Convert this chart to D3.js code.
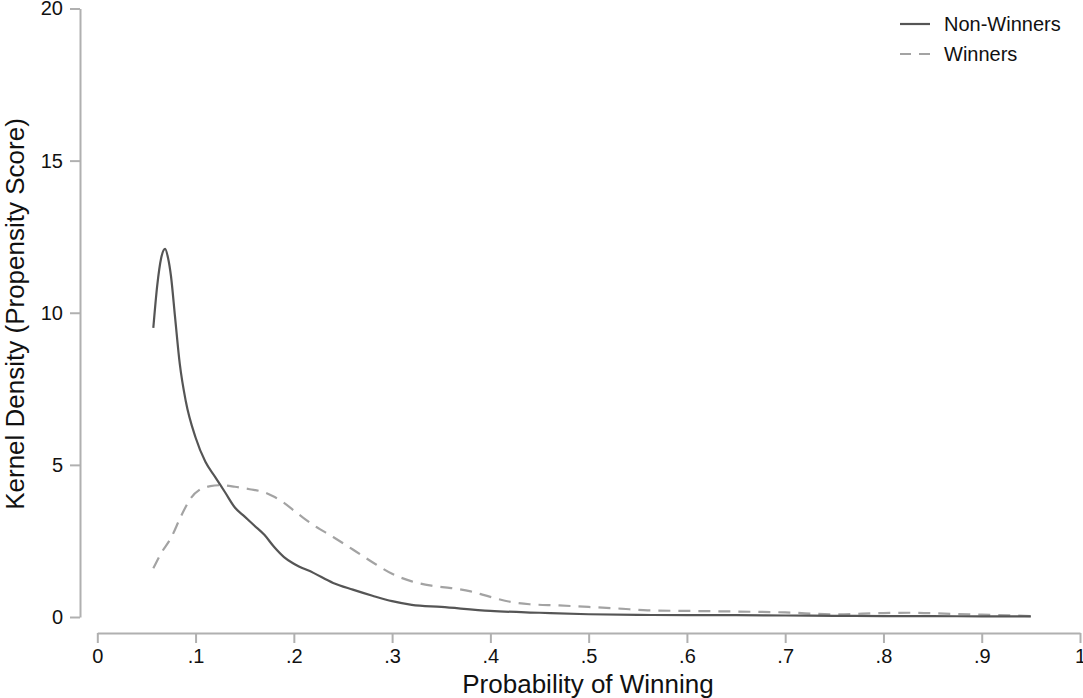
<!DOCTYPE html>
<html>
<head>
<meta charset="utf-8">
<script src="https://cdn.jsdelivr.net/npm/d3@7"></script>
<style>
  body { margin: 0; background: #fff; }
  svg { font-family: "Liberation Sans", Arial, Helvetica, sans-serif; }
  .axis path, .axis line { stroke: #b0b0b0; stroke-width: 2; }
  .axis text { font-size: 20px; fill: #111; }
</style>
</head>
<body>
<div class="density_chart"></div>
<script>
// Non-Winners kernel density
const nonWinX = [0.057, 0.061, 0.065, 0.069, 0.072, 0.075, 0.079, 0.084, 0.09, 0.1, 0.11, 0.12, 0.13, 0.14, 0.15, 0.16, 0.17, 0.18, 0.19, 0.2, 0.22, 0.24, 0.26, 0.28, 0.3, 0.32, 0.35, 0.4, 0.45, 0.5, 0.55, 0.6, 0.65, 0.7, 0.75, 0.8, 0.85, 0.9, 0.95];
const nonWinY = [9.5, 10.9, 11.8, 12.1, 11.8, 11.2, 9.9, 8.3, 7.1, 5.9, 5.1, 4.6, 4.1, 3.6, 3.3, 3.0, 2.7, 2.3, 1.97, 1.75, 1.45, 1.12, 0.9, 0.7, 0.52, 0.4, 0.33, 0.2, 0.14, 0.09, 0.07, 0.06, 0.06, 0.05, 0.04, 0.03, 0.03, 0.02, 0.02];

// Winners kernel density
const winX = [0.057, 0.065, 0.075, 0.085, 0.095, 0.105, 0.115, 0.125, 0.14, 0.155, 0.17, 0.18, 0.19, 0.2, 0.21, 0.22, 0.24, 0.26, 0.28, 0.3, 0.32, 0.34, 0.36, 0.38, 0.4, 0.42, 0.44, 0.47, 0.5, 0.53, 0.56, 0.6, 0.65, 0.7, 0.75, 0.8, 0.83, 0.87, 0.9, 0.95];
const winY = [1.6, 2.1, 2.6, 3.3, 3.9, 4.2, 4.3, 4.33, 4.28, 4.2, 4.1, 3.95, 3.75, 3.5, 3.25, 3.02, 2.63, 2.22, 1.8, 1.42, 1.17, 1.03, 0.95, 0.84, 0.66, 0.5, 0.42, 0.38, 0.33, 0.28, 0.22, 0.2, 0.18, 0.15, 0.09, 0.13, 0.14, 0.1, 0.08, 0.03];

const xTicks = [0, 0.1, 0.2, 0.3, 0.4, 0.5, 0.6, 0.7, 0.8, 0.9, 1];
const yTicks = [0, 5, 10, 15, 20];
const legendLabels = ["Non-Winners", "Winners"];

const W = 1083, H = 698;

const svg = d3
  .select(".density_chart")
  .append("svg")
  .attr("width", W)
  .attr("height", H);

const x = d3.scaleLinear().domain([0, 1]).range([97.3, 1080]);
const y = d3.scaleLinear().domain([0, 20]).range([617, 8.5]);

const fmtX = (d) => (d === 0 ? "0" : d === 1 ? "1" : d3.format(".1f")(d).replace(/^0/, ""));

svg
  .append("g")
  .attr("class", "axis")
  .attr("transform", "translate(0,633)")
  .call(d3.axisBottom(x).tickValues(xTicks).tickFormat(fmtX).tickSize(10).tickSizeOuter(0).tickPadding(6));

svg
  .append("g")
  .attr("class", "axis")
  .attr("transform", "translate(80,0)")
  .call(d3.axisLeft(y).tickValues(yTicks).tickSize(10).tickSizeOuter(0).tickPadding(7));

// axis titles
svg
  .append("text")
  .attr("x", 588)
  .attr("y", 693)
  .attr("text-anchor", "middle")
  .attr("font-size", 26)
  .attr("fill", "#111")
  .text("Probability of Winning");

svg
  .append("text")
  .attr("transform", "translate(24,314) rotate(-90)")
  .attr("text-anchor", "middle")
  .attr("font-size", 26)
  .attr("fill", "#111")
  .text("Kernel Density (Propensity Score)");

const line = d3
  .line()
  .x((d) => x(d[0]))
  .y((d) => y(d[1]))
  .curve(d3.curveMonotoneX);

const nonWin = nonWinX.map((v, i) => [v, nonWinY[i]]);
const win = winX.map((v, i) => [v, winY[i]]);

svg
  .append("path")
  .datum(win)
  .attr("d", line)
  .attr("fill", "none")
  .attr("stroke", "#a3a3a3")
  .attr("stroke-width", 2.2)
  .attr("stroke-dasharray", "12,8");

svg
  .append("path")
  .datum(nonWin)
  .attr("d", line)
  .attr("fill", "none")
  .attr("stroke", "#555")
  .attr("stroke-width", 2.2);

// legend
const legend = svg
  .selectAll(".legend")
  .data(legendLabels)
  .enter()
  .append("g")
  .attr("class", "legend")
  .attr("transform", (d, i) => `translate(900,${24 + i * 30})`);

legend
  .append("line")
  .attr("x1", 0)
  .attr("x2", 30)
  .attr("stroke", (d, i) => (i === 0 ? "#555" : "#a3a3a3"))
  .attr("stroke-width", 2.2)
  .attr("stroke-dasharray", (d, i) => (i === 0 ? null : "11,8"));

legend
  .append("text")
  .attr("x", 44)
  .attr("dy", "0.35em")
  .attr("font-size", 20)
  .attr("fill", "#111")
  .text((d) => d);
</script>
</body>
</html>
